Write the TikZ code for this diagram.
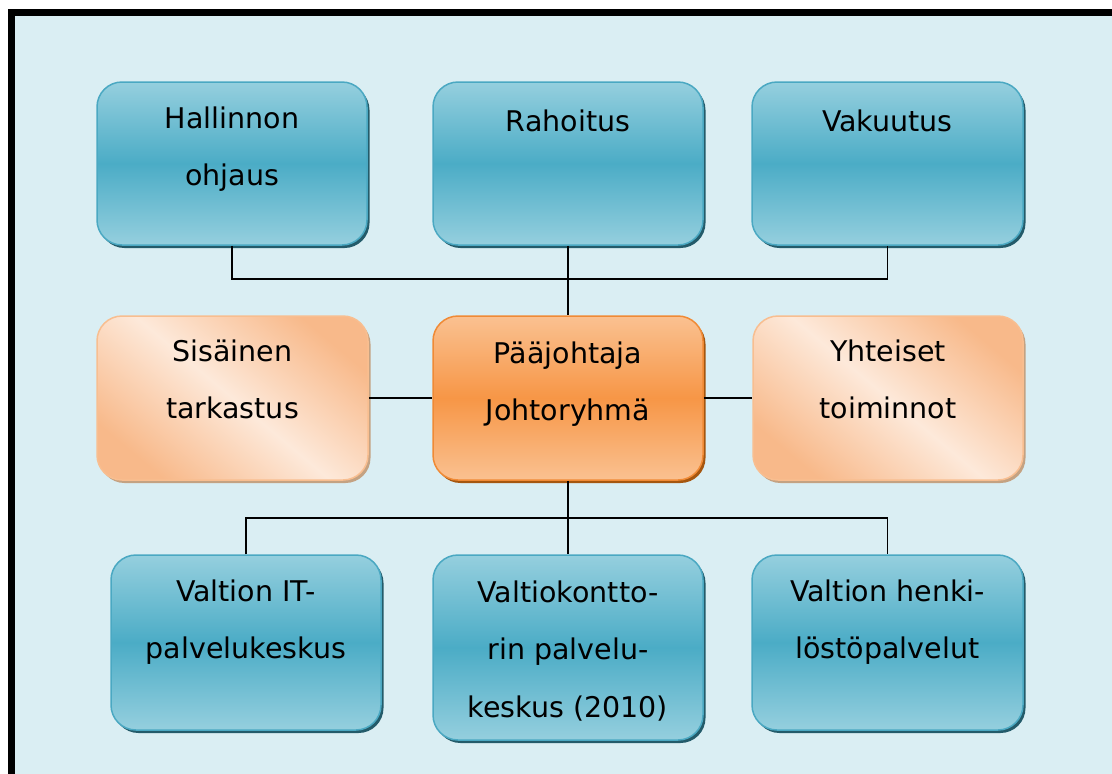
\documentclass[tikz,border=0pt]{standalone}
\usepackage{fontspec}
\setmainfont{DejaVu Sans}
\usetikzlibrary{calc,shadows}
\definecolor{bg}{HTML}{DAEEF3}
\definecolor{bluelight}{HTML}{95CFDE}
\definecolor{bluemid}{HTML}{4BACC6}
\definecolor{blueedge}{HTML}{4AA8C2}
\definecolor{blueshadow}{HTML}{235B6A}
\definecolor{orlight}{HTML}{FAC191}
\definecolor{ormid}{HTML}{F79646}
\definecolor{oredge}{HTML}{F08A35}
\definecolor{orshadow}{HTML}{A5560F}
\definecolor{peachdark}{HTML}{F8B98A}
\definecolor{peachlight}{HTML}{FDE9DA}
\definecolor{peachedge}{HTML}{F8BE90}
\definecolor{peachshadow}{HTML}{C4A282}
\tikzset{
  boxbase/.style={rectangle, rounded corners=25pt, line width=1.5pt, inner sep=0pt},
  bluebox/.style={boxbase, draw=blueedge, shading=axis, top color=bluelight, bottom color=bluelight, middle color=bluemid,
    general shadow={fill=blueshadow, shadow xshift=2.5pt, shadow yshift=-3pt}},
  orbox/.style={boxbase, draw=oredge, shading=axis, top color=orlight, bottom color=orlight, middle color=ormid,
    general shadow={fill=orshadow, shadow xshift=2.5pt, shadow yshift=-3pt}},
  peachbox/.style={boxbase, draw=peachedge, shading=axis, top color=peachdark, bottom color=peachdark, middle color=peachlight, shading angle=-40,
    general shadow={fill=peachshadow, shadow xshift=2.5pt, shadow yshift=-3pt}},
  lbl/.style={anchor=north, align=center, inner sep=0pt, font={\fontsize{28.5}{57.5}\selectfont}},
  conn/.style={line width=1.5pt, black},
}
\newcommand{\toprule}{\rule{0pt}{23pt}}
\begin{document}
\begin{tikzpicture}[x=1pt,y=-1pt]
\useasboundingbox (0,0) rectangle (1112,774);
\fill[white] (0,0) rectangle (1112,774);
\fill[bg] (11.5,12.5) rectangle (1112,774);
\draw[line width=7pt] (11.5,774) -- (11.5,12.5) -- (1112,12.5);

% top row
\node[bluebox, minimum width=270pt, minimum height=163pt] (hal) at (232,163.5) {};
\node[bluebox, minimum width=270pt, minimum height=163pt] (rah) at (568,163.5) {};
\node[bluebox, minimum width=271pt, minimum height=163pt] (vak) at (887.5,163.5) {};
% middle row
\node[peachbox, minimum width=271pt, minimum height=164pt] (sis) at (232.5,398) {};
\node[orbox, minimum width=270pt, minimum height=164pt] (paa) at (568,398) {};
\node[peachbox, minimum width=270pt, minimum height=164pt] (yht) at (888,398) {};
% bottom row
\node[bluebox, minimum width=270pt, minimum height=175pt] (vit) at (246,642.5) {};
\node[bluebox, minimum width=270pt, minimum height=185pt] (vko) at (568,647.5) {};
\node[bluebox, minimum width=271pt, minimum height=175pt] (vhp) at (887.5,642.5) {};

% labels (first baseline about 47pt below the box top)
\node[lbl] (thal) at ($(hal.north)+(0,24)$) {\toprule Hallinnon\\ohjaus};
\node[lbl] (trah) at ($(rah.north)+(0,27)$) {\toprule Rahoitus};
\node[lbl] (tvak) at ($(vak.north)+(0,27)$) {\toprule Vakuutus};
\node[lbl] (tsis) at ($(sis.north)+(0,23)$) {\toprule Sisäinen\\tarkastus};
\node[lbl] (tpaa) at ($(paa.north)+(0,25)$) {\toprule Pääjohtaja\\Johtoryhmä};
\node[lbl] (tyht) at ($(yht.north)+(0,23)$) {\toprule Yhteiset\\toiminnot};
\node[lbl] (tvit) at ($(vit.north)+(0,24)$) {\toprule Valtion IT-\\palvelukeskus};
\node[lbl] (tvko) at ($(vko.north)+(0,25)$) {\toprule Valtiokontto-\\rin palvelu-\\keskus (2010)};
\node[lbl] (tvhp) at ($(vhp.north)+(0,24)$) {\toprule Valtion henki-\\löstöpalvelut};

% connectors
\coordinate (tj) at (568,279);
\coordinate (bj) at (568,518);
\draw[conn] (hal.south) |- (tj) -| (vak.south);
\draw[conn] (rah.south) -- (paa.north);
\draw[conn] (sis.east) -- (paa.west);
\draw[conn] (paa.east) -- (yht.west);
\draw[conn] (paa.south) -- (vko.north);
\draw[conn] (vit.north) |- (bj) -| (vhp.north);
\end{tikzpicture}
\end{document}
